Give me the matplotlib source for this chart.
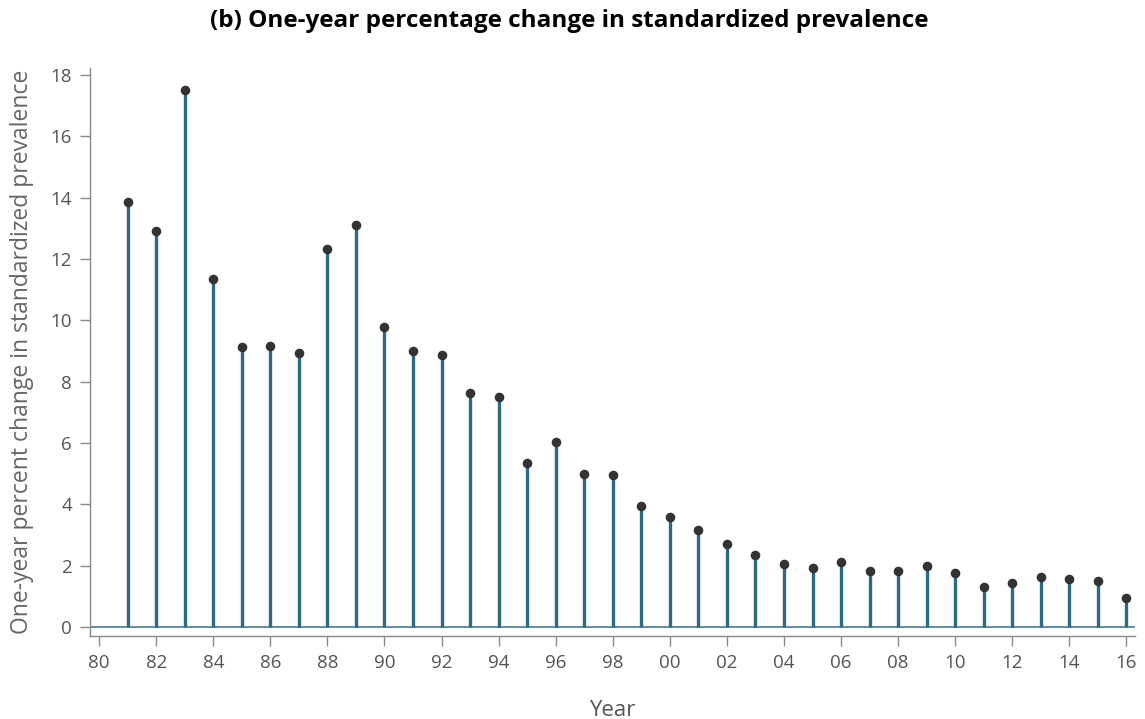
import matplotlib
matplotlib.use("Agg")
import matplotlib.pyplot as plt
import numpy as np

years = np.arange(1981, 2017)
pct_change = [13.86, 12.91, 17.51, 11.35, 9.13, 9.16, 8.93, 12.32, 13.11, 9.78,
              9.01, 8.87, 7.64, 7.51, 5.36, 6.05, 5.00, 4.96, 3.95, 3.59,
              3.16, 2.70, 2.34, 2.07, 1.93, 2.11, 1.82, 1.84, 1.99, 1.78,
              1.31, 1.43, 1.63, 1.56, 1.51, 0.94]
xtick_years = np.arange(1980, 2017, 2)
xtick_labels = [f"{y % 100:02d}" for y in xtick_years]
ytick_vals = np.arange(0, 19, 2)

STEM_C = "#2b6a80"
DOT_C = "#333333"
AXIS_C = "#8a8a8a"
TEXT_C = "#555555"

plt.rcParams["font.family"] = ["Open Sans", "DejaVu Sans"]

fig = plt.figure(figsize=(11.45, 7.19), dpi=100)
ax = fig.add_axes([90 / 1145, 1 - 636 / 719, 1045 / 1145, 568 / 719])

ax.axhline(0, color="#5e8fa0", lw=1.4, zorder=1)
ax.vlines(years, 0, pct_change, color=STEM_C, lw=2.4, zorder=2)
ax.scatter(years, pct_change, s=48, color=DOT_C, zorder=3, linewidths=0)

ax.set_xlim(1979.68, 2016.3)
ax.set_ylim(-0.29, 18.23)
ax.set_xticks(xtick_years)
ax.set_xticklabels(xtick_labels)
ax.set_yticks(ytick_vals)

for side in ("top", "right"):
    ax.spines[side].set_visible(False)
for side in ("left", "bottom"):
    ax.spines[side].set_color(AXIS_C)
    ax.spines[side].set_linewidth(1.0)
ax.tick_params(axis="both", colors=AXIS_C, labelcolor=TEXT_C, length=7,
               width=1.0, labelsize=13.5, pad=6)

ax.set_xlabel("Year", fontsize=16, color=TEXT_C, labelpad=20)
ax.set_ylabel("One-year percent change in standardized prevalence",
              fontsize=16.5, color="#666666", labelpad=12)
fig.suptitle("(b) One-year percentage change in standardized prevalence",
             fontsize=17.5, fontweight="bold", x=0.497, y=0.988)

fig.savefig("out.png", dpi=100)
